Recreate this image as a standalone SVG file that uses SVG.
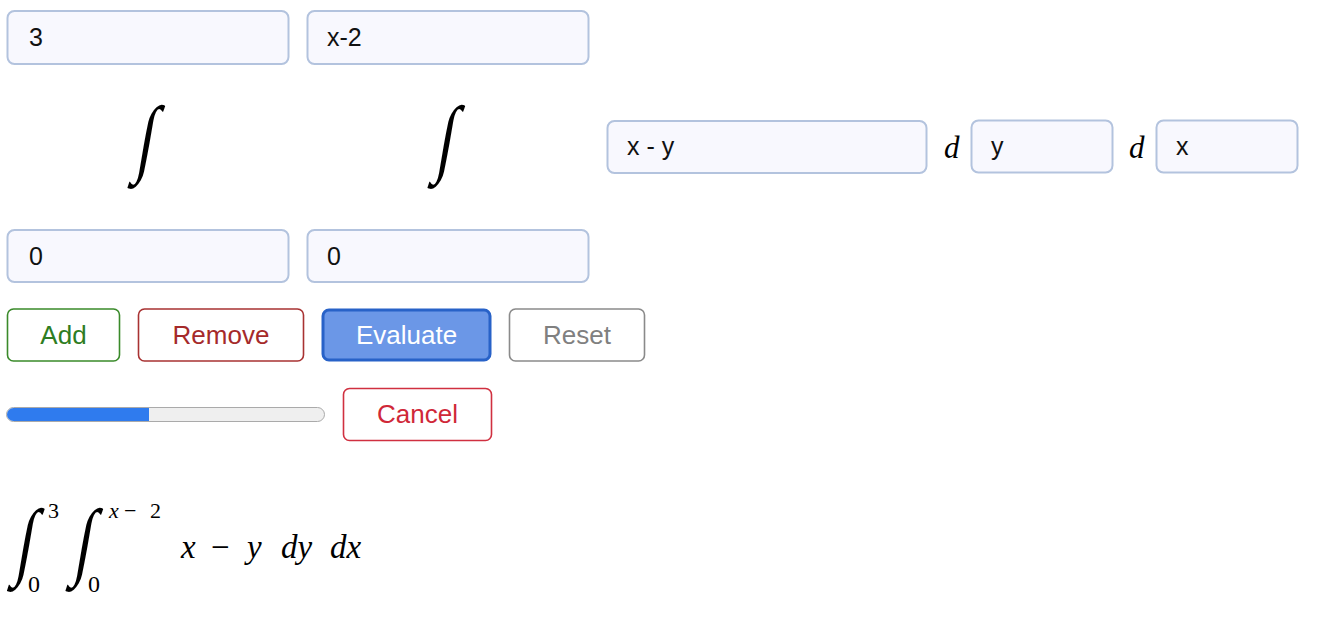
<svg xmlns="http://www.w3.org/2000/svg" width="1331" height="635" viewBox="0 0 1331 635">
<style>
.inp{fill:#f8f8fe;stroke:#b3c3de;stroke-width:2}
.it{font-family:"Liberation Sans",Arial,sans-serif;font-size:25px;fill:#111}
.btn{fill:#fff;stroke-width:1.6}
.bt{font-family:"Liberation Sans",Arial,sans-serif;font-size:26px;text-anchor:middle}
.m{font-family:"Liberation Serif","DejaVu Serif",serif;font-style:italic;fill:#000}
.int{font-family:"Liberation Serif","DejaVu Serif",serif;fill:#000}
.big{font-size:86px}
</style>
<rect width="1331" height="635" fill="#fff"/>
<g id="upper1"><rect class="inp" x="7.5" y="11" width="281" height="53" rx="7"/><text class="it" x="29" y="46">3</text></g>
<g id="upper2"><rect class="inp" x="307.5" y="11" width="281" height="53" rx="7"/><text class="it" x="327" y="46">x-2</text></g>
<g id="int1"><text class="int big" transform="translate(134.5,166) skewX(-10) scale(0.72,1)">∫</text></g>
<g id="int2"><text class="int big" transform="translate(434.5,166) skewX(-10) scale(0.72,1)">∫</text></g>
<g id="integrand"><rect class="inp" x="607.5" y="121" width="319" height="52" rx="7"/><text class="it" x="627" y="155">x - y</text></g>
<g id="d1"><text class="m" x="944" y="158" font-size="31">d</text></g>
<g id="var1"><rect class="inp" x="971.5" y="120.5" width="141" height="52" rx="7"/><text class="it" x="991" y="155">y</text></g>
<g id="d2"><text class="m" x="1129" y="158" font-size="31">d</text></g>
<g id="var2"><rect class="inp" x="1156.5" y="120.5" width="141" height="52" rx="7"/><text class="it" x="1176" y="155">x</text></g>
<g id="lower1"><rect class="inp" x="7.5" y="230" width="281" height="52" rx="7"/><text class="it" x="29" y="265">0</text></g>
<g id="lower2"><rect class="inp" x="307.5" y="230" width="281" height="52" rx="7"/><text class="it" x="327" y="265">0</text></g>
<g id="add"><rect class="btn" x="7.5" y="309" width="112" height="52" rx="6" stroke="#3a8a2a"/><text class="bt" x="63.5" y="344" fill="#2e7d22">Add</text></g>
<g id="remove"><rect class="btn" x="138.5" y="309" width="165" height="52" rx="6" stroke="#a83232"/><text class="bt" x="221" y="344" fill="#a52a2a">Remove</text></g>
<g id="evaluate"><rect x="323" y="310" width="167" height="50" rx="6" fill="#6b97e7" stroke="#2862c8" stroke-width="3"/><text class="bt" x="406.5" y="344" fill="#fff">Evaluate</text></g>
<g id="reset"><rect class="btn" x="509.5" y="309" width="135" height="52" rx="6" stroke="#8a8a8a"/><text class="bt" x="577" y="344" fill="#808080">Reset</text></g>
<g id="progress"><rect x="6.5" y="407.5" width="318" height="14" rx="7" fill="#efefef" stroke="#aaa" stroke-width="1"/><path d="M13.5,408 H149 V421 H13.5 A6.5,6.5 0 0 1 13.5,408 Z" fill="#2f7bee"/></g>
<g id="cancel"><rect class="btn" x="343.5" y="388.5" width="148" height="52" rx="6" stroke="#d03040"/><text class="bt" x="417.5" y="423" fill="#d02838">Cancel</text></g>
<g id="formula">
<text class="int big" transform="translate(14,569) skewX(-10) scale(0.72,1)">∫</text>
<text class="int" x="48" y="518" font-size="22">3</text>
<text class="int" x="28" y="592" font-size="24">0</text>
<text class="int big" transform="translate(72.5,569) skewX(-10) scale(0.72,1)">∫</text>
<text class="m" x="109" y="518" font-size="22">x</text>
<text class="int" x="124" y="518" font-size="22">−</text>
<text class="int" x="150" y="518" font-size="22">2</text>
<text class="int" x="88" y="592" font-size="24">0</text>
<text class="m" x="181" y="558" font-size="33">x</text>
<text class="int" x="211" y="558" font-size="33">−</text>
<text class="m" x="247" y="558" font-size="33">y</text>
<text class="m" x="281" y="558" font-size="33">dy</text>
<text class="m" x="330" y="558" font-size="33">dx</text>
</g>
</svg>
